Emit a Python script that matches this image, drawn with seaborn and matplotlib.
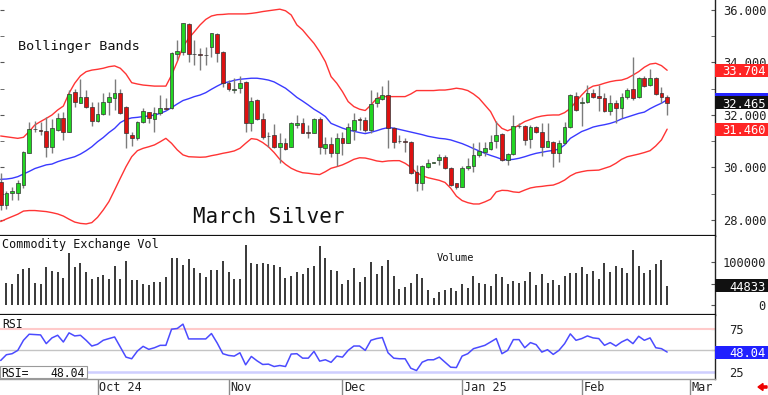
import numpy as np
import pandas as pd
import matplotlib
matplotlib.use('Agg')
import matplotlib.pyplot as plt
import seaborn as sns
from matplotlib.patches import Rectangle, FancyArrow
from matplotlib.ticker import FixedLocator, FormatStrFormatter
import matplotlib.transforms as mtrans

# March Silver daily candles (first bar = 6 Sep 2024)
open_px = [29.46, 28.57, 29.02, 29.04, 29.33, 30.57, 31.45, 31.44, 31.40, 30.77,
           31.43, 31.87, 31.37, 32.89, 32.47, 32.67, 32.29, 31.78, 32.04, 32.48,
           32.63, 32.83, 32.29, 31.24, 31.11, 31.75, 32.10, 31.83, 32.06, 32.27,
           32.25, 34.32, 34.41, 35.47, 34.34, 34.31, 34.27, 34.60, 35.09, 34.41,
           33.21, 32.97, 33.02, 33.27, 31.68, 32.57, 31.83, 31.21, 31.24, 30.79,
           30.92, 30.79, 31.62, 31.68, 31.35, 31.33, 31.83, 30.76, 30.88, 30.54,
           31.11, 30.95, 31.43, 31.85, 31.81, 31.43, 32.44, 32.61, 32.76, 31.49,
           31.02, 31.00, 30.98, 29.84, 29.42, 30.03, 30.17, 30.29, 30.41, 29.97,
           29.40, 29.27, 29.97, 30.07, 30.48, 30.60, 30.69, 31.02, 31.28, 30.29,
           30.51, 31.57, 31.58, 31.07, 31.53, 31.37, 30.79, 30.98, 30.54, 30.92,
           31.53, 32.72, 32.44, 32.51, 32.85, 32.72, 32.63, 32.17, 32.47, 32.25,
           32.67, 32.98, 32.67, 33.40, 33.14, 33.42, 32.83, 32.67]
high_px = [29.78, 29.12, 29.27, 29.52, 30.64, 31.75, 31.78, 31.72, 31.94, 31.83,
           32.09, 32.13, 32.95, 32.98, 33.36, 32.95, 32.51, 32.51, 32.83, 32.89,
           33.36, 32.98, 32.34, 31.37, 31.78, 32.25, 32.13, 32.29, 32.76, 32.63,
           34.41, 34.86, 35.52, 35.49, 34.86, 34.54, 34.60, 35.14, 35.11, 34.45,
           33.33, 33.40, 33.49, 33.30, 32.67, 32.60, 32.06, 31.37, 31.66, 31.30,
           31.11, 31.73, 32.00, 31.87, 31.62, 31.87, 31.94, 31.17, 31.17, 31.30,
           31.37, 31.68, 32.06, 31.94, 31.94, 32.95, 32.89, 33.10, 33.33, 31.56,
           31.24, 31.11, 31.02, 30.10, 30.10, 30.31, 30.22, 30.51, 30.48, 30.01,
           29.42, 30.06, 30.35, 30.95, 30.98, 30.98, 31.24, 31.78, 31.33, 30.57,
           32.00, 31.71, 31.62, 31.62, 31.58, 31.68, 31.68, 31.01, 31.05, 31.75,
           32.80, 32.89, 32.70, 33.14, 32.98, 33.14, 32.83, 32.76, 32.57, 32.83,
           33.02, 34.20, 33.43, 33.49, 33.74, 33.46, 33.08, 32.76]
low_px = [28.38, 28.41, 28.76, 28.76, 29.21, 30.54, 31.37, 31.24, 30.41, 30.57,
          31.40, 31.05, 31.34, 32.32, 32.44, 32.25, 31.58, 31.75, 32.00, 32.00,
          32.19, 32.04, 30.73, 30.82, 31.05, 31.71, 31.71, 31.37, 32.00, 32.19,
          32.21, 34.10, 34.29, 34.03, 33.90, 33.71, 33.90, 34.22, 34.03, 33.05,
          32.93, 32.83, 32.83, 31.37, 31.40, 31.81, 31.07, 30.79, 30.73, 30.18,
          30.67, 30.77, 31.49, 31.30, 31.11, 31.30, 30.51, 30.51, 30.41, 30.07,
          30.48, 30.92, 31.05, 31.43, 31.37, 31.33, 32.32, 32.57, 30.73, 30.73,
          30.95, 30.60, 29.75, 29.12, 29.14, 29.97, 30.16, 30.10, 29.93, 29.30,
          29.17, 29.24, 29.90, 29.84, 30.41, 30.44, 30.67, 30.73, 30.26, 30.10,
          30.48, 31.49, 30.86, 30.73, 31.30, 30.44, 30.77, 30.03, 30.22, 30.90,
          31.50, 32.17, 31.58, 32.47, 32.63, 32.17, 32.13, 32.00, 31.71, 31.87,
          32.60, 32.57, 32.63, 33.05, 33.10, 32.76, 32.44, 32.00]
close_px = [28.57, 29.02, 29.10, 29.40, 30.58, 31.45, 31.48, 31.39, 30.77, 31.49,
            31.87, 31.37, 32.79, 32.51, 32.67, 32.29, 31.78, 32.04, 32.48, 32.67,
            32.83, 32.06, 31.30, 31.11, 31.75, 32.15, 31.87, 32.09, 32.27, 32.24,
            34.37, 34.45, 35.49, 34.32, 34.31, 34.27, 34.30, 35.11, 34.35, 33.21,
            32.98, 32.99, 33.23, 31.71, 32.55, 31.83, 31.17, 31.19, 30.79, 30.92,
            30.70, 31.68, 31.71, 31.33, 31.30, 31.83, 30.79, 30.88, 30.54, 31.11,
            30.95, 31.56, 31.81, 31.82, 31.43, 32.42, 32.63, 32.76, 31.49, 30.98,
            31.00, 30.97, 29.78, 29.42, 30.06, 30.18, 30.20, 30.41, 29.97, 29.33,
            29.27, 29.97, 30.07, 30.48, 30.64, 30.73, 30.98, 31.24, 30.29, 30.51,
            31.58, 31.59, 31.05, 31.53, 31.37, 30.79, 31.02, 30.54, 30.92, 31.56,
            32.76, 32.19, 32.51, 32.85, 32.70, 32.63, 32.17, 32.47, 32.25, 32.67,
            32.95, 32.63, 33.40, 33.10, 33.42, 32.80, 32.70, 32.465]

bb_upper = [31.20, 31.17, 31.14, 31.11, 31.15, 31.37, 31.62, 31.75, 31.87, 32.00,
            32.19, 32.34, 32.83, 33.21, 33.49, 33.65, 33.71, 33.74, 33.78, 33.84,
            33.87, 33.78, 33.56, 33.23, 33.18, 33.14, 33.12, 33.10, 33.10, 33.10,
            33.52, 34.03, 34.60, 34.92, 35.17, 35.43, 35.64, 35.77, 35.82, 35.83,
            35.85, 35.85, 35.85, 35.85, 35.87, 35.90, 35.94, 35.97, 36.00, 36.03,
            35.97, 35.81, 35.43, 35.24, 34.98, 34.73, 34.41, 34.03, 33.46, 33.21,
            32.89, 32.51, 32.32, 32.22, 32.17, 32.38, 32.63, 32.70, 32.70, 32.70,
            32.70, 32.70, 32.80, 32.93, 32.93, 32.93, 32.93, 32.95, 32.95, 32.98,
            33.02, 32.99, 32.93, 32.80, 32.63, 32.38, 32.13, 31.71, 31.49, 31.40,
            31.49, 31.62, 31.75, 31.83, 31.91, 31.96, 31.99, 32.00, 32.00, 32.09,
            32.25, 32.51, 32.76, 32.98, 33.10, 33.14, 33.21, 33.27, 33.31, 33.33,
            33.40, 33.52, 33.65, 33.82, 33.94, 33.97, 33.88, 33.704]
bb_mid = [29.55, 29.56, 29.59, 29.65, 29.75, 29.85, 29.96, 30.03, 30.10, 30.13,
          30.22, 30.29, 30.35, 30.41, 30.51, 30.64, 30.79, 30.98, 31.14, 31.33,
          31.49, 31.71, 31.83, 31.89, 31.91, 31.94, 31.96, 32.00, 32.06, 32.15,
          32.28, 32.42, 32.55, 32.62, 32.70, 32.76, 32.85, 32.98, 33.10, 33.21,
          33.26, 33.32, 33.36, 33.38, 33.40, 33.40, 33.37, 33.33, 33.26, 33.14,
          33.02, 32.85, 32.67, 32.53, 32.38, 32.22, 32.09, 31.94, 31.68, 31.59,
          31.50, 31.43, 31.38, 31.33, 31.29, 31.34, 31.40, 31.47, 31.52, 31.50,
          31.45, 31.40, 31.35, 31.30, 31.25, 31.19, 31.15, 31.11, 31.09, 31.05,
          30.98, 30.91, 30.82, 30.72, 30.63, 30.54, 30.46, 30.39, 30.31, 30.29,
          30.31, 30.35, 30.41, 30.48, 30.54, 30.58, 30.62, 30.65, 30.70, 30.86,
          31.11, 31.24, 31.37, 31.45, 31.54, 31.59, 31.63, 31.68, 31.75, 31.85,
          31.92, 31.99, 32.06, 32.11, 32.24, 32.35, 32.45, 32.58]
bb_lower = [27.94, 28.04, 28.13, 28.22, 28.34, 28.36, 28.36, 28.34, 28.32, 28.28,
            28.23, 28.15, 28.03, 27.92, 27.87, 27.85, 27.90, 28.10, 28.38, 28.70,
            29.14, 29.59, 30.03, 30.41, 30.64, 30.73, 30.79, 30.86, 30.98, 31.11,
            30.92, 30.67, 30.48, 30.41, 30.40, 30.39, 30.40, 30.45, 30.49, 30.54,
            30.58, 30.63, 30.73, 30.92, 31.10, 31.07, 30.95, 30.79, 30.57, 30.31,
            30.12, 29.97, 29.87, 29.80, 29.78, 29.75, 29.73, 29.84, 29.97, 30.03,
            30.10, 30.20, 30.31, 30.37, 30.36, 30.31, 30.25, 30.22, 30.25, 30.26,
            30.26, 30.16, 30.01, 29.80, 29.69, 29.61, 29.56, 29.51, 29.43, 29.21,
            28.91, 28.74, 28.66, 28.61, 28.61, 28.69, 28.79, 29.07, 29.13, 29.12,
            29.07, 29.05, 29.14, 29.22, 29.26, 29.28, 29.31, 29.33, 29.41, 29.52,
            29.68, 29.79, 29.84, 29.88, 29.89, 29.90, 29.97, 30.04, 30.16, 30.31,
            30.41, 30.46, 30.51, 30.57, 30.64, 30.82, 31.05, 31.46]

# volume starts at the 2nd bar (the 1st one is cut by the left edge)
volume = [52300, 50000, 73100, 84600, 86900, 52300, 50000, 88500, 79200, 77700,
          63800, 120000, 89200, 96900, 77700, 60000, 65400, 69200, 61500, 90800,
          61500, 102300, 57700, 58500, 48500, 46900, 54600, 53800, 65400, 110000,
          110000, 92300, 106200, 85400, 73800, 66200, 80800, 80800, 102300, 77700,
          60000, 60000, 138500, 96900, 94600, 96900, 94600, 93100, 88500, 62300,
          67700, 77700, 71500, 86900, 90800, 136900, 108500, 82000, 79200, 50000,
          57700, 85400, 54600, 66200, 100000, 71500, 90800, 104600, 66900, 38500,
          43100, 52300, 71500, 62300, 35400, 17700, 30800, 34600, 40800, 33100,
          48500, 40800, 67700, 50800, 48500, 44600, 71500, 65400, 48500, 56200,
          52300, 56200, 76900, 46200, 73100, 52300, 58500, 46900, 67700, 73800,
          73800, 88500, 71500, 78500, 61500, 98500, 77700, 90800, 86900, 75400,
          126900, 90800, 75400, 81500, 94600, 104600, 44833]

rsi = [38.2, 44.9, 46.1, 50.0, 61.8, 68.9, 68.5, 68.1, 57.9, 64.6,
       67.7, 59.8, 70.5, 66.9, 67.7, 61.8, 55.1, 57.1, 61.8, 63.8,
       65.7, 53.9, 42.1, 40.2, 49.2, 54.7, 51.2, 53.1, 55.9, 55.9,
       74.8, 75.6, 80.7, 63.4, 63.4, 63.4, 63.4, 69.7, 58.7, 46.1,
       44.1, 43.3, 47.2, 33.1, 42.9, 37.8, 33.5, 33.9, 31.1, 32.3,
       31.1, 45.7, 46.1, 40.9, 40.9, 48.8, 37.4, 39.0, 36.0, 43.3,
       42.1, 50.0, 55.1, 55.1, 50.0, 61.8, 63.8, 65.0, 47.2, 40.9,
       40.2, 40.2, 29.1, 26.4, 36.2, 39.0, 39.0, 42.1, 36.2, 30.3,
       29.9, 43.3, 46.1, 52.0, 53.9, 55.9, 59.8, 63.8, 46.1, 50.0,
       62.6, 62.6, 53.1, 59.1, 56.7, 48.0, 50.8, 45.3, 50.0, 57.9,
       69.3, 61.8, 63.8, 66.9, 64.6, 63.8, 55.9, 59.1, 55.1, 59.8,
       63.0, 57.9, 66.5, 61.8, 64.6, 53.1, 52.0, 48.04]

month_labels = ['Oct 24', 'Nov', 'Dec', 'Jan 25', 'Feb', 'Mar']
holidays = ['2024-11-28', '2024-12-25', '2025-01-01', '2025-01-20', '2025-02-17']

sns.set_style('white')
plt.rcParams['font.family'] = ['DejaVu Sans Mono', 'DejaVu Sans']

W, H = 768, 395
fig = plt.figure(figsize=(W / 100, H / 100), dpi=100)


def px_axes(top, bottom, right=715):
    return fig.add_axes([0, 1 - bottom / H, right / W, (bottom - top) / H])


def ptext(xp, yp, s, **kw):
    return fig.text(xp / W, 1 - yp / H, s, va='center_baseline', **kw)


ax_p = px_axes(0, 236)
ax_v = px_axes(236, 315)
ax_r = px_axes(315, 379)

n = len(close_px)
x = np.arange(n)
for ax in (ax_p, ax_v, ax_r):
    ax.set_xlim(-0.12, 125.4)
    ax.set_facecolor('white')
    for s in ('left', 'top'):
        ax.spines[s].set_visible(False)
    ax.spines['right'].set_color('#222222')
    ax.spines['right'].set_linewidth(1.0)
    ax.tick_params(axis='x', bottom=False, labelbottom=False)
    ax.yaxis.tick_right()

# --- price panel
bands = pd.DataFrame({'x': x, 'upper': bb_upper, 'mid': bb_mid, 'lower': bb_lower})
sns.lineplot(data=bands, x='x', y='upper', ax=ax_p, color='#ff3434', lw=1.0, zorder=1)
sns.lineplot(data=bands, x='x', y='lower', ax=ax_p, color='#ff3434', lw=1.0, zorder=1)
sns.lineplot(data=bands, x='x', y='mid', ax=ax_p, color='#3a3aff', lw=1.0, zorder=1)

o = np.array(open_px)
c = np.array(close_px)
up = c >= o
ax_p.vlines(x, low_px, high_px, color='#7c7c7c', lw=1.0, zorder=2)
ax_p.bar(x, c - o, bottom=o, width=0.66, color=np.where(up, '#22d622', '#dd1111'),
         edgecolor='#333333', linewidth=0.5, zorder=3)

ax_p.set_ylim(27.39, 36.38)
ax_p.yaxis.set_major_locator(FixedLocator([28, 30, 32, 34, 36]))
ax_p.yaxis.set_minor_locator(FixedLocator([29, 31, 33, 35]))
ax_p.yaxis.set_major_formatter(FormatStrFormatter('%.3f'))
ax_p.tick_params(axis='y', which='both', direction='in', length=3, color='#555555',
                 left=True, labelleft=False, pad=5.8, labelsize=8.7, labelcolor='#222222')
ax_p.spines['bottom'].set_color('#111111')
ax_p.spines['bottom'].set_linewidth(1.6)
ax_p.set_xlabel('')
ax_p.set_ylabel('')

# --- volume panel
ax_v.vlines(x[1:], 0, volume, color='#383838', lw=1.4)
ax_v.set_ylim(-22400, 160000)
ax_v.set_yticks([0, 50000, 100000])
ax_v.set_yticklabels(['0', '50000', '100000'])
ax_v.tick_params(axis='y', direction='in', length=3, color='#555555', pad=36.5,
                 labelsize=8.7, labelcolor='#222222')
for lab in ax_v.get_yticklabels():
    lab.set_horizontalalignment('right')
ax_v.spines['bottom'].set_color('#111111')
ax_v.spines['bottom'].set_linewidth(1.6)

# --- RSI panel
ax_r.axhline(75, color='#ffcaca', lw=1.5, zorder=1)
ax_r.axhline(50, color='#c4c4c4', lw=1.0, zorder=1)
ax_r.axhline(25, color='#cfcfff', lw=1.8, zorder=1)
sns.lineplot(x=x, y=rsi, ax=ax_r, color='#4b4bff', lw=1.1, zorder=2)
ax_r.set_ylim(16.5, 91.4)
ax_r.set_yticks([25, 50, 75])
ax_r.tick_params(axis='y', direction='in', length=3, color='#555555', pad=10.5,
                 labelsize=8.7, labelcolor='#222222')
ax_r.spines['bottom'].set_color('#9a9a9a')
ax_r.spines['bottom'].set_linewidth(1.0)

# month ticks at the first trading day of each month
days = pd.bdate_range('2024-09-06', '2025-03-31', freq='C', holidays=holidays)
month_start = [int(np.argmax((days.year == yy) & (days.month == mm)))
               for yy, mm in [(2024, 10), (2024, 11), (2024, 12), (2025, 1), (2025, 2), (2025, 3)]]
ax_r.set_xticks(month_start)
ax_r.tick_params(axis='x', bottom=True, direction='out', length=11.5, width=1.0,
                 color='#8a8a8a', labelbottom=False)
tr = mtrans.blended_transform_factory(ax_r.transData, ax_r.transAxes)
for pos, lab in zip(month_start, month_labels):
    ax_r.text(pos + 0.3, -0.13, lab, transform=tr, ha='left', va='center',
              fontsize=8.5, color='#222222', clip_on=False)


# value tags on the right axis; later tags sit on top of earlier ones
tag_z = [5]


def tag(ax, val, txt, fc):
    y = ax.transData.transform((0, val))[1]
    z = tag_z[0]
    fig.add_artist(Rectangle((715, y - 6.5), 53, 13, transform=None,
                             facecolor=fc, edgecolor='none', zorder=z))
    fig.text(766 / W, y / H, txt, ha='right', va='center_baseline', color='white',
             fontsize=8.7, zorder=z + 0.5)
    tag_z[0] += 1


tag(ax_p, bb_upper[-1], f'{bb_upper[-1]:.3f}', '#ff2424')
tag(ax_p, bb_mid[-1], f'{bb_mid[-1]:.3f}', '#2424ff')
tag(ax_p, close_px[-1], f'{close_px[-1]:.3f}', '#111111')
tag(ax_p, bb_lower[-1], f'{bb_lower[-1]:.3f}', '#ff2424')
tag(ax_v, volume[-1], f'{volume[-1]}', '#111111')
tag(ax_r, rsi[-1], f'{rsi[-1]:.2f}', '#2020ff')

# titles and panel captions
ptext(18, 45, 'Bollinger Bands', fontsize=9.7, color='#111111')
ptext(193, 215, 'March Silver', fontsize=15, color='#111111')
ptext(2, 243, 'Commodity Exchange Vol', fontsize=8.5, color='#111111')
ptext(437, 257, 'Volume', fontsize=7.5, color='#111111')
ptext(2, 323, 'RSI', fontsize=8.3, color='#111111')

fig.add_artist(Rectangle((0, H - 378), 87, 12, transform=None, facecolor='white',
                         edgecolor='#9a9a9a', lw=0.8, zorder=20))
ptext(1, 372, 'RSI=', fontsize=8.3, color='#111111', zorder=21)
ptext(85, 372, f'{rsi[-1]:.2f}', fontsize=8.3, color='#111111', ha='right', zorder=21)

fig.add_artist(FancyArrow(767, 8, -9, 0, width=2.2, head_width=7, head_length=5,
                          length_includes_head=True, transform=None, color='#ee0000', zorder=5))

fig.savefig('out.png', dpi=100)
